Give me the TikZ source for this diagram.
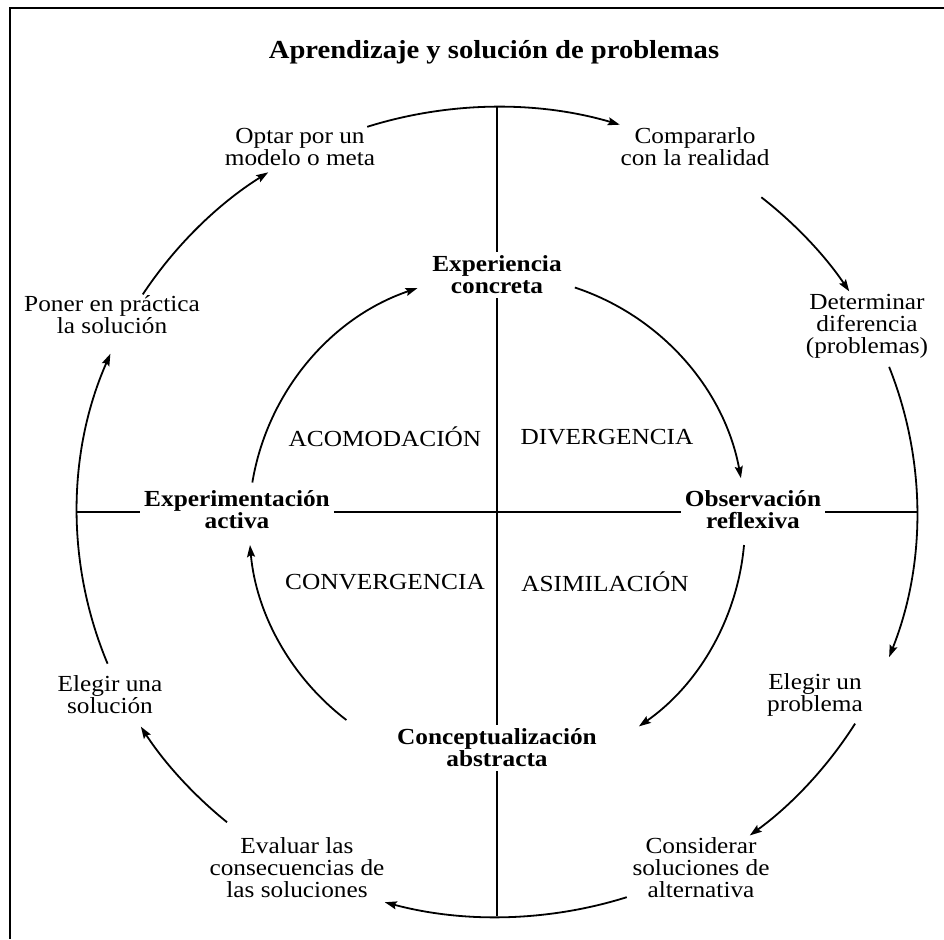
\documentclass[tikz,border=0pt]{standalone}
\usepackage{fontspec}
\setmainfont{Liberation Serif}[FakeStretch=1.1]
\usetikzlibrary{arrows.meta,calc}
\begin{document}
\begin{tikzpicture}[x=1pt,y=1pt,
  lab/.style={align=center,font=\fontsize{23}{22}\selectfont,inner sep=4pt},
  blab/.style={align=center,font=\fontsize{23}{22}\selectfont\bfseries,inner sep=4pt},
  quad/.style={font=\fontsize{23}{22}\selectfont,inner sep=2pt},
  arr/.style={line width=1.8pt,-{Stealth[length=12pt,width=8pt,inset=2pt]}},
  ax/.style={line width=1.4pt},
  frame/.style={line width=2.5pt}]
\useasboundingbox (0,0) rectangle (944,939);
% frame
\coordinate (FTR) at (944,931);
\coordinate (FTL) at (10,931);
\coordinate (FBL) at (10,0);
\draw[frame] (FTR) -- (FTL) -- (FBL);
% title
\node[font=\fontsize{26}{28}\selectfont\bfseries] (title) at (494,887) {Aprendizaje y solución de problemas};
% centres
\coordinate (C) at (497,427);
\coordinate (Ci) at (497,416);
% labels
\node[lab] (OM) at (300,792) {Optar por un\\modelo o meta};
\node[lab] (CR) at (695,792) {Compararlo\\con la realidad};
\node[blab] (EC) at (497,664) {Experiencia\\concreta};
\node[lab] (PS) at (112,624) {Poner en práctica\\la solución};
\node[lab] (DD) at (867,613) {Determinar\\diferencia\\(problemas)};
\node[quad] (acom) at (385,502) {ACOMODACIÓN};
\node[quad] (div) at (607,502) {DIVERGENCIA};
\node[blab] (EA) at (237,429) {Experimentación\\activa};
\node[blab] (OR) at (753,429) {Observación\\reflexiva};
\node[quad] (conv) at (385,357) {CONVERGENCIA};
\node[quad] (asim) at (605,357) {ASIMILACIÓN};
\node[lab] (EU) at (110,244) {Elegir una\\solución};
\node[lab] (EP) at (815,244) {Elegir un\\problema};
\node[blab] (CA) at (497,191) {Conceptualización\\abstracta};
\node[lab] (EV) at (297,71) {Evaluar las\\consecuencias de\\las soluciones};
\node[lab] (CS) at (701,71) {Considerar\\soluciones de\\alternativa};
% axes
\coordinate (Otop) at ($(C)+(0,405)$);
\coordinate (Obot) at ($(C)+(0,-404)$);
\coordinate (Oleft) at ($(C)+(-420,0)$);
\coordinate (Oright) at ($(C)+(421,0)$);
\draw[ax] (Otop) -- (Otop |- EC.north);
\draw[ax] (Otop |- EC.south) -- (Otop |- CA.north);
\draw[ax] (Otop |- CA.south) -- (Obot);
\draw[ax] (Oleft) -- (EA.west |- Oleft);
\draw[ax] (EA.east |- Oleft) -- (OR.west |- Oleft);
\draw[ax] (OR.east |- Oleft) -- (Oright);
% outer cycle
\foreach \a/\b [count=\i] in {108/73, 51/33, 21/-21, -31.5/-53, -72/-105.5, -130/-148, 202/157, 147.5/123}{
  \coordinate (o\i) at ($(C)+(\a:420 and 405)$);
  \draw[arr] (o\i) arc[start angle=\a, end angle=\b, x radius=420, y radius=405];
}
% inner cycle
\foreach \a/\b [count=\i] in {71.7/10.4, -5.1/-55.1, -127.4/-174.9, 170.6/108.7}{
  \coordinate (i\i) at ($(Ci)+(\a:248)$);
  \draw[arr] (i\i) arc[start angle=\a, end angle=\b, radius=248];
}
\end{tikzpicture}
\end{document}
